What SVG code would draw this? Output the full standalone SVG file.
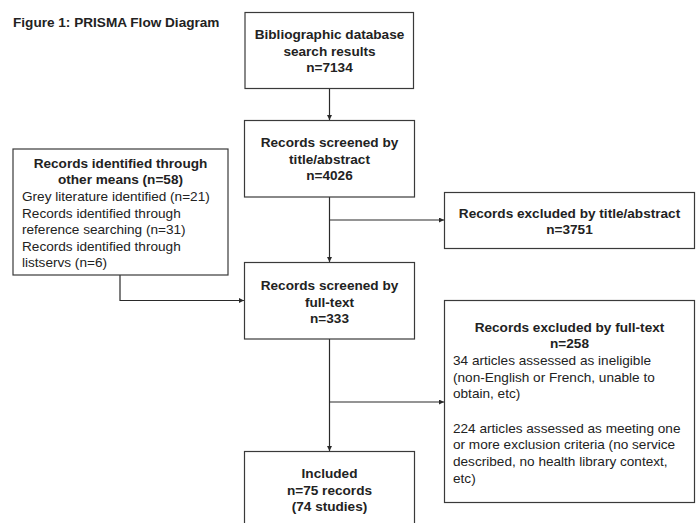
<svg xmlns="http://www.w3.org/2000/svg" width="697" height="523" viewBox="0 0 697 523">
<style>
.box{fill:#fff;stroke:#3a3a3a;stroke-width:1.2}
.t{font-family:"Liberation Sans",Arial,sans-serif;font-size:13.6px;fill:#222}
.b{font-weight:bold}
.c{text-anchor:middle}
.ln{fill:none;stroke:#2a2a2a;stroke-width:1.2}
</style>
<defs>
<marker id="ah" markerUnits="userSpaceOnUse" markerWidth="6" markerHeight="6" refX="5" refY="2.5" orient="auto">
<path d="M0,0 L5,2.5 L0,5 z" fill="#2a2a2a"/>
</marker>
</defs>
<rect width="697" height="523" fill="#fff"/>
<text class="t b" x="13" y="27" font-size="13.6">Figure 1: PRISMA Flow Diagram</text>
<g id="connectors">
<path class="ln" d="M329.5,88.5 V120" marker-end="url(#ah)"/>
<path class="ln" d="M329.5,197 V262" marker-end="url(#ah)"/>
<path class="ln" d="M329.5,220 H444" marker-end="url(#ah)"/>
<path class="ln" d="M120,275 V300.5 H244" marker-end="url(#ah)"/>
<path class="ln" d="M329.5,339 V451" marker-end="url(#ah)"/>
<path class="ln" d="M329.5,402 H444" marker-end="url(#ah)"/>
</g>
<g id="n1">
<rect class="box" x="245" y="12.5" width="168.5" height="76"/>
<text class="t b c" x="329.5" y="39">Bibliographic database</text>
<text class="t b c" x="329.5" y="55.7">search results</text>
<text class="t b c" x="329.5" y="72.2">n=7134</text>
</g>
<g id="n2">
<rect class="box" x="244.5" y="120.5" width="170" height="76.5"/>
<text class="t b c" x="329.5" y="147">Records screened by</text>
<text class="t b c" x="329.5" y="163.7">title/abstract</text>
<text class="t b c" x="329.5" y="180.4">n=4026</text>
</g>
<g id="n3">
<rect class="box" x="244.5" y="262.5" width="170" height="76.5"/>
<text class="t b c" x="329.5" y="289.8">Records screened by</text>
<text class="t b c" x="329.5" y="306.5">full-text</text>
<text class="t b c" x="329.5" y="323">n=333</text>
</g>
<g id="n4">
<rect class="box" x="13" y="149" width="215" height="126"/>
<text class="t b c" x="120.5" y="167.5">Records identified through</text>
<text class="t b c" x="120.5" y="184">other means (n=58)</text>
<text class="t" x="22" y="200.8">Grey literature identified (n=21)</text>
<text class="t" x="22" y="217.5">Records identified through</text>
<text class="t" x="22" y="234">reference searching (n=31)</text>
<text class="t" x="22" y="250.8">Records identified through</text>
<text class="t" x="22" y="267">listservs (n=6)</text>
</g>
<g id="n5">
<rect class="box" x="444.5" y="192.5" width="250" height="56"/>
<text class="t b c" x="569.5" y="217.8">Records excluded by title/abstract</text>
<text class="t b c" x="569.5" y="234.3">n=3751</text>
</g>
<g id="n6">
<rect class="box" x="444.5" y="300.5" width="250" height="202"/>
<text class="t b c" x="569.5" y="331.5">Records excluded by full-text</text>
<text class="t b c" x="569.5" y="348">n=258</text>
<text class="t" x="453" y="364.8">34 articles assessed as ineligible</text>
<text class="t" x="453" y="381.5">(non-English or French, unable to</text>
<text class="t" x="453" y="398.3">obtain, etc)</text>
<text class="t" x="453" y="432.5">224 articles assessed as meeting one</text>
<text class="t" x="453" y="449">or more exclusion criteria (no service</text>
<text class="t" x="453" y="465.8">described, no health library context,</text>
<text class="t" x="453" y="482.5">etc)</text>
</g>
<g id="n7">
<rect class="box" x="244.5" y="451.5" width="170" height="80"/>
<text class="t b c" x="329.5" y="477.8">Included</text>
<text class="t b c" x="329.5" y="494.5">n=75 records</text>
<text class="t b c" x="329.5" y="511.2">(74 studies)</text>
</g>
</svg>
